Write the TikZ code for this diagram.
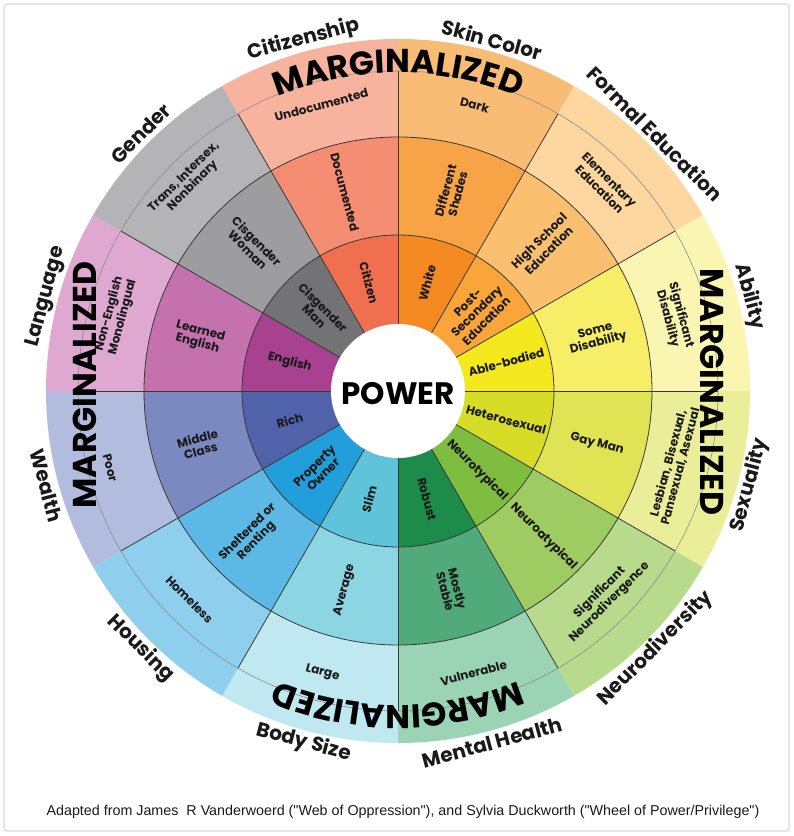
\documentclass[tikz,border=0pt]{standalone}
\usepackage{fontspec}
\setmainfont{Poppins}
\newfontfamily\footfont{Liberation Sans}
\usetikzlibrary{decorations.text}
\definecolor{cit1}{HTML}{EF6F4E}\definecolor{cit2}{HTML}{F48D72}\definecolor{cit3}{HTML}{F7B39E}
\definecolor{skn1}{HTML}{F58A22}\definecolor{skn2}{HTML}{F7A346}\definecolor{skn3}{HTML}{F8BC74}
\definecolor{edu1}{HTML}{FAA53A}\definecolor{edu2}{HTML}{FBC06F}\definecolor{edu3}{HTML}{FDD6A0}
\definecolor{abl1}{HTML}{F4E81E}\definecolor{abl2}{HTML}{F6EE66}\definecolor{abl3}{HTML}{FAF6B2}
\definecolor{sex1}{HTML}{D7DC26}\definecolor{sex2}{HTML}{E0E454}\definecolor{sex3}{HTML}{EBEE98}
\definecolor{neu1}{HTML}{7FBD41}\definecolor{neu2}{HTML}{9FCC62}\definecolor{neu3}{HTML}{B8DA8D}
\definecolor{men1}{HTML}{1D8B4A}\definecolor{men2}{HTML}{50AA7A}\definecolor{men3}{HTML}{9BD4B5}
\definecolor{bod1}{HTML}{5FC4D9}\definecolor{bod2}{HTML}{8CD5E3}\definecolor{bod3}{HTML}{BFE8F1}
\definecolor{hou1}{HTML}{229FDB}\definecolor{hou2}{HTML}{5CB9E6}\definecolor{hou3}{HTML}{8FCFEE}
\definecolor{wea1}{HTML}{5062AA}\definecolor{wea2}{HTML}{7B89C1}\definecolor{wea3}{HTML}{B2BCDE}
\definecolor{lan1}{HTML}{A8418F}\definecolor{lan2}{HTML}{C571AE}\definecolor{lan3}{HTML}{DEA8D0}
\definecolor{gen1}{HTML}{737375}\definecolor{gen2}{HTML}{9D9D9F}\definecolor{gen3}{HTML}{B4B4B6}
\definecolor{ink}{HTML}{1A1A1A}
\definecolor{framegray}{HTML}{DADADA}
\newcommand\margfont{\fontsize{33}{33}\selectfont\bfseries}
\begin{document}
\begin{tikzpicture}[x=1pt,y=1pt,
  ringline/.style={draw=black!78, line width=0.8pt},
  thinline/.style={draw=black!45, line width=0.6pt},
  lab/.style={inner sep=0pt, align=center, text=ink, font=\fontsize{12}{12.5}\selectfont\bfseries},
  catlab/.style={inner sep=0pt, text=ink, font=\fontsize{20}{20}\selectfont\bfseries},
  margtext/.style={inner sep=0pt, text=black, font=\margfont},
  marg/.style={decorate, decoration={text along path, text align=center, text={|\margfont|MARGINALIZED}}}]
\useasboundingbox (-398,-445) rectangle (396,391);
\fill[white] (-398,-445) rectangle (396,391);
\draw[framegray, line width=1.2pt, rounded corners=3pt] (-394,-440) rectangle (391,387);
% sectors
\foreach \a/\ca/\cb/\cc in {90/cit1/cit2/cit3, 60/skn1/skn2/skn3, 30/edu1/edu2/edu3, 0/abl1/abl2/abl3,
  -30/sex1/sex2/sex3, -60/neu1/neu2/neu3, -90/men1/men2/men3, -120/bod1/bod2/bod3,
  -150/hou1/hou2/hou3, 180/wea1/wea2/wea3, 150/lan1/lan2/lan3, 120/gen1/gen2/gen3}
{
  \fill[\cc] (\a:254) arc[start angle=\a, end angle=\a+30, radius=254] -- (\a+30:352)
     arc[start angle=\a+30, end angle=\a, radius=352] -- cycle;
  \fill[\cb] (\a:156) arc[start angle=\a, end angle=\a+30, radius=156] -- (\a+30:254)
     arc[start angle=\a+30, end angle=\a, radius=254] -- cycle;
  \fill[\ca] (\a:60) arc[start angle=\a, end angle=\a+30, radius=60] -- (\a+30:156)
     arc[start angle=\a+30, end angle=\a, radius=156] -- cycle;
}
\foreach \a in {0,30,...,330} \draw[ringline] (\a:67) -- (\a:320);
\draw[ringline] (0,0) circle[radius=156];
\draw[ringline] (0,0) circle[radius=254];
\draw[thinline] (0,0) circle[radius=320];
\fill[white] (0,0) circle[radius=67];
\node[inner sep=0pt, text=black, font=\fontsize{31}{31}\selectfont\bfseries] (power) at (0,-3) {POWER};
% labels
\foreach \t/\rr/\rt/\rc/\la/\lb/\lc/\cat [count=\i] in {
  105/-75/15/296/{Citizen}/{Documented}/{Undocumented}/{Citizenship},
  75/75/-15/296/{White}/{Different\\Shades}/{Dark}/{Skin Color},
  45/45/-45/292/{Post-\\Secondary\\Education}/{High School\\Education}/{Elementary\\Education}/{Formal Education},
  15/15/-75/286/{Able-bodied}/{Some\\Disability}/{Significant\\Disability}/{Ability},
  -15/-15/75/286/{Heterosexual}/{Gay Man}/{Lesbian, Bisexual,\\Pansexual, Asexual}/{Sexuality},
  -45/-45/45/292/{Neurotypical}/{Neuroatypical}/{Significant\\Neurodivergence}/{Neurodiversity},
  -75/-75/15/292/{Robust}/{Mostly\\Stable}/{Vulnerable}/{Mental Health},
  -105/75/-15/292/{Slim}/{Average}/{Large}/{Body Size},
  -135/45/-45/295/{Property\\Owner}/{Sheltered or\\Renting}/{Homeless}/{Housing},
  -165/15/-75/298/{Rich}/{Middle\\Class}/{Poor}/{Wealth},
  165/-15/75/292/{English}/{Learned\\English}/{Non-English\\Monolingual}/{Language},
  135/-45/45/296/{Cisgender\\Man}/{Cisgender\\Woman}/{Trans, Intersex,\\Nonbinary}/{Gender}}
{
  \node[lab, rotate=\rr] (ra\i) at (\t:112) {\la};
  \node[lab, rotate=\rr] (rb\i) at (\t:206) {\lb};
  \node[lab, rotate=\rt] (rc\i) at (\t:\rc) {\lc};
  \node[catlab, rotate=\rt] (cat\i) at (\t:364) {\cat};
}
% MARGINALIZED
\path[marg] (140:318) arc[start angle=140, end angle=40, radius=318];
\path[marg] (-40:314) arc[start angle=-40, end angle=-140, radius=314];
\node[margtext, rotate=90] (margleft) at (-313,6) {MARGINALIZED};
\node[margtext, rotate=-90] (margright) at (314,-1) {MARGINALIZED};
% footer
\node[inner sep=0pt, text=ink, font=\footfont\fontsize{14.3}{15}\selectfont] (foot) at (5,-421)
  {Adapted from James\ \ R Vanderwoerd ("Web of Oppression"), and Sylvia Duckworth ("Wheel of Power/Privilege")};
\end{tikzpicture}
\end{document}
